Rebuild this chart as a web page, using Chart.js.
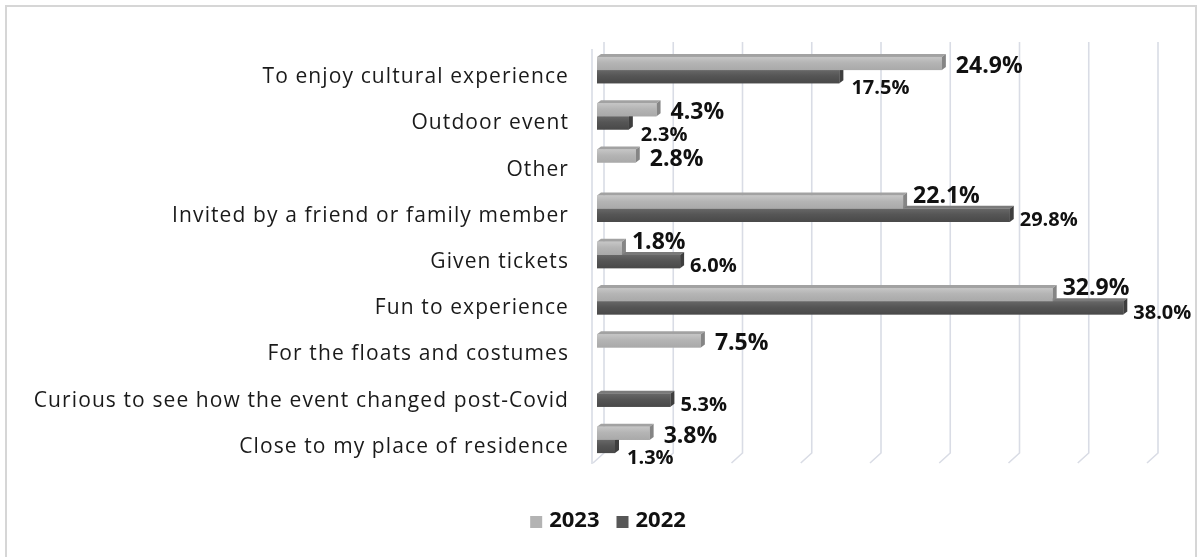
<!DOCTYPE html>
<html>
<head>
<meta charset="utf-8">
<script src="https://cdn.jsdelivr.net/npm/chart.js@4.4.1/dist/chart.umd.min.js"></script>
<style>
  html, body { margin: 0; padding: 0; background: #ffffff; }
  #wrap { position: relative; width: 1198px; height: 557px; overflow: hidden; }
  #frame { position: absolute; left: 5px; top: 5px; width: 1192px; height: 600px; border: 2px solid #d6d6d6; box-sizing: border-box; }
  canvas { position: absolute; left: 0; top: 0; }
</style>
</head>
<body>
<div id="wrap">
  <div id="frame"></div>
  <canvas id="c" width="1198" height="557"></canvas>
</div>
<script>
// ---- data ----
const categories = [
  'To enjoy cultural experience',
  'Outdoor event',
  'Other',
  'Invited by a friend or family member',
  'Given tickets',
  'Fun to experience',
  'For the floats and costumes',
  'Curious to see how the event changed post-Covid',
  'Close to my place of residence'
];
const values2023 = [24.9, 4.3, 2.8, 22.1, 1.8, 32.9, 7.5, null, 3.8];
const values2022 = [17.5, 2.3, null, 29.8, 6.0, 38.0, null, 5.3, 1.3];
const seriesNames = ['2023', '2022'];
const xTickValues = [0, 5, 10, 15, 20, 25, 30, 35, 40];

// ---- styles ----
const styles = [
  { base: '#b3b3b3', top: '#a2a2a2', side: '#858585', g0: '#c6c6c6', g1: '#b4b4b4', g2: '#a9a9a9', font: 'bold 23px "Open Sans"' },
  { base: '#575757', top: '#7a7a7a', side: '#3e3e3e', g0: '#676767', g1: '#555555', g2: '#494949', font: 'bold 20px "Open Sans"' }
];

const spacingPlugin = {
  id: 'axisLetterSpacing',
  beforeDraw(chart) { chart.ctx.letterSpacing = '1.1px'; },
  beforeDatasetsDraw(chart) { chart.ctx.letterSpacing = '0px'; }
};

const gridPlugin = {
  id: 'grid3d',
  beforeDatasetsDraw(chart) {
    const ctx = chart.ctx, a = chart.chartArea, xs = chart.scales.x;
    ctx.save();
    ctx.strokeStyle = '#d9dce5';
    ctx.lineWidth = 1.6;
    ctx.beginPath();
    ctx.moveTo(a.left - 5, a.top + 2);
    ctx.lineTo(a.left - 5, a.bottom + 1);
    ctx.stroke();
    xTickValues.forEach(v => {
      const xf = xs.getPixelForValue(v);
      ctx.beginPath();
      ctx.moveTo(xf + 7, a.top - 5);
      ctx.lineTo(xf + 7, a.bottom - 10);
      ctx.lineTo(xf - 4, a.bottom);
      ctx.stroke();
    });
    ctx.restore();
  }
};

const bar3dPlugin = {
  id: 'bar3d',
  afterDatasetsDraw(chart) {
    const ctx = chart.ctx;
    const dx = 4, dy = 3;
    [1, 0].forEach(di => {
      const meta = chart.getDatasetMeta(di);
      const st = styles[di];
      meta.data.forEach((el, i) => {
        const raw = chart.data.datasets[di].data[i];
        if (raw === null || raw === undefined) return;
        const p = el.getProps(['x', 'y', 'base', 'height'], true);
        const x0 = p.base, x1 = p.x, yT = p.y - p.height / 2, yB = p.y + p.height / 2;
        ctx.save();
        ctx.fillStyle = st.top;
        ctx.beginPath();
        ctx.moveTo(x0, yT); ctx.lineTo(x1, yT); ctx.lineTo(x1 + dx, yT - dy); ctx.lineTo(x0 + dx, yT - dy);
        ctx.closePath(); ctx.fill();
        ctx.fillStyle = st.side;
        ctx.beginPath();
        ctx.moveTo(x1, yT); ctx.lineTo(x1 + dx, yT - dy); ctx.lineTo(x1 + dx, yB - dy); ctx.lineTo(x1, yB);
        ctx.closePath(); ctx.fill();
        const g = ctx.createLinearGradient(0, yT, 0, yB);
        g.addColorStop(0, st.g0); g.addColorStop(0.45, st.g1); g.addColorStop(1, st.g2);
        ctx.fillStyle = g;
        ctx.fillRect(x0, yT, x1 - x0, yB - yT);
        ctx.restore();
      });
    });
  }
};

const labelPlugin = {
  id: 'valueLabels',
  afterDatasetsDraw(chart) {
    const ctx = chart.ctx;
    ctx.save();
    ctx.fillStyle = '#111111';
    ctx.textAlign = 'left';
    ctx.textBaseline = 'middle';
    [0, 1].forEach(di => {
      const meta = chart.getDatasetMeta(di);
      const own = chart.data.datasets[di].data;
      const other = chart.data.datasets[1 - di].data;
      ctx.font = styles[di].font;
      meta.data.forEach((el, i) => {
        const v = own[i];
        if (v === null || v === undefined) return;
        const o = other[i];
        const p = el.getProps(['x', 'y'], true);
        let ox, oy;
        if (di === 0) {
          if (o !== null && o > v) { ox = 10; oy = -6; } else { ox = 14; oy = 3; }
        } else {
          if (o !== null && o > v) { ox = 12; oy = 12; } else { ox = 10; oy = 5; }
        }
        ctx.fillText(v.toFixed(1) + '%', p.x + ox, p.y + oy);
      });
    });
    ctx.restore();
  }
};

const legendPlugin = {
  id: 'customLegend',
  afterDraw(chart) {
    const ctx = chart.ctx;
    ctx.save();
    ctx.font = 'bold 22px "Open Sans"';
    ctx.textBaseline = 'middle';
    const box = 12, gap = 7, itemGap = 17;
    const names = chart.data.datasets.map(d => d.label);
    const widths = names.map(n => ctx.measureText(n).width);
    let total = 0;
    widths.forEach((w, i) => { total += box + gap + w + (i < widths.length - 1 ? itemGap : 0); });
    let x = 608 - total / 2;
    const yc = 521;
    names.forEach((n, i) => {
      ctx.fillStyle = chart.data.datasets[i].backgroundColor;
      ctx.fillRect(x, yc - box / 2 + 1, box, box);
      x += box + gap;
      ctx.fillStyle = '#111111';
      ctx.fillText(n, x, yc);
      x += widths[i] + itemGap;
    });
    ctx.restore();
  }
};

new Chart(document.getElementById('c'), {
  type: 'bar',
  data: {
    labels: categories,
    datasets: [
      { label: seriesNames[0], data: values2023, backgroundColor: styles[0].base, categoryPercentage: 0.57, barPercentage: 1.0 },
      { label: seriesNames[1], data: values2022, backgroundColor: styles[1].base, categoryPercentage: 0.57, barPercentage: 1.0 }
    ]
  },
  options: {
    indexAxis: 'y',
    responsive: false,
    animation: false,
    devicePixelRatio: 1,
    layout: { padding: { top: 47, bottom: 94, left: 0, right: 47 } },
    plugins: { legend: { display: false }, tooltip: { enabled: false } },
    scales: {
      x: { display: false, min: 0, max: 40, ticks: { stepSize: 5 } },
      y: {
        grid: { display: false },
        border: { display: false },
        afterFit(scale) { scale.width = 597; },
        ticks: {
          padding: 20,
          labelOffset: 7,
          color: '#1a1a1a',
          font: { family: '"Open Sans"', size: 21 }
        }
      }
    }
  },
  plugins: [spacingPlugin, gridPlugin, bar3dPlugin, labelPlugin, legendPlugin]
});
</script>
</body>
</html>
